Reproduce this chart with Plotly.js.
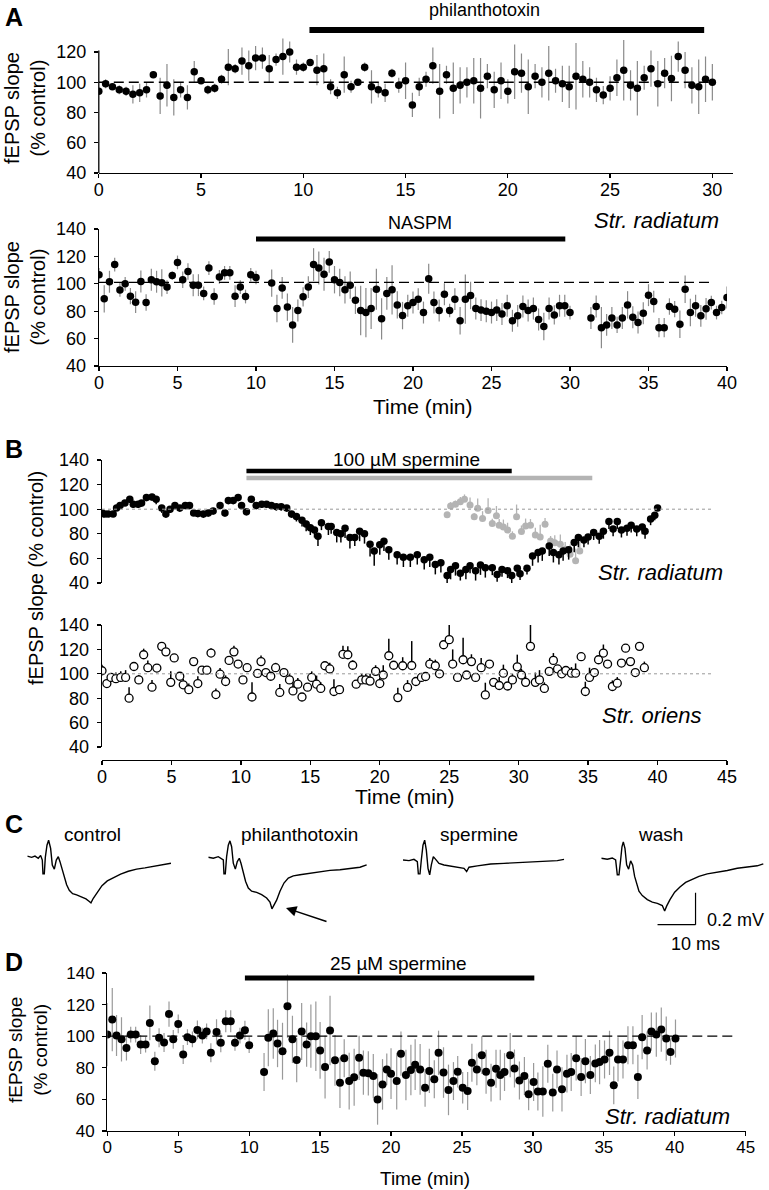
<!DOCTYPE html>
<html><head><meta charset="utf-8">
<script src="https://cdn.plot.ly/plotly-3.0.1.min.js"></script>
<style>html,body{margin:0;padding:0;background:#fff}#chart{width:769px;height:1190px}</style>
</head><body><div id="chart"></div>
<script>
// ---------------- DATA ----------------
// Panel A (top): philanthotoxin, sampled every 1/3 min from 0 min
const sampleStepMin = 1/3;
const philValues = [94,99,97,95,94,92,93,95,105,91, 98,90,95,90,107,101,95,96,102,110, 109,114,111,116,116,109,115,117,120,110,
  110,113,108,109,97,93,105,97,100,110, 97,95,93, 106,98,101,85,97,102,111,94,105,96,
  98,100,101,96,104,95,101,94,107,106, 97,104,100,106,101,99,97,104,102,100,
  95,91.5,96,103,108,98,96,103,109,99, 106,102.5,117,108,98,97,102,100];
const philErr = [2,3,2,3,3,6,6,5,2,12, 14,12,5,8,7,2,3,3,3,12, 3,9,10,8,7,9,4,12,7,5,
  3,2,10,10,5,4,12,4,2,3, 11,5,6, 3,5,12,8,6,5,12,18,6,17,
  12,10,15,20,8,12,12,8,18,13, 18,8,10,18,8,12,14,22,12,10,
  8,6,8,12,20,10,18,8,12,15, 10,15,10,12,12,18,15,12];
const philPeriod = [10.3, 29.6];

// Panel A (bottom): NASPM, sampled every 1/3 min (null = missing sample)
const naspmValues = [106.6,89,101.5,114,95.5,100,91,86.6,101.7,86.3, 103,101.5,100.7,97.6,106,115.6,103,109,99,99,
  93,111.5,90.7,105,108,108,91,97.6,90.7,106.6, 104.6, null,null,
  100.5,82,97,83,70,80.5,90.5,97.6,114, 111.5,107,116,103,101,95.6,99,88,80.5,79, 82,96,74.4,
  93,95.6,84.6,76.8,84,86.3,88.8,79,103.7, 86.3,80.5,92.4,80.5,88.8,73,88.8,91.5,82,80.8,
  80,79,80.8,78,84,73,76.6,83.4,80.5,82, 74,68.8,82,77.3,84,84,79, null,null,null,
  75,83.4,68,70,75,70,75,84.6,75.6,71.7, 78.5,91.7,87,68,68,83.4,81.5,70.5,96,79,
  84,76.6,81.7,86.3,79,82.7,90];
const naspmErr = [5,10,8,5,5,5,6,8,8,6, 8,8,10,5,3,5,6,6,8,8, 5,5,6,5,5,5,8,5,5,5, 5, 0,0,
  10,10,8,10,13,8,7,8,12, 12,12,8,10,10,10,10,10,18,18, 15,15,15,
  12,18,10,10,8,8,8,8,11, 8,8,8,5,8,10,18,10,8,8, 8,8,8,8,8,8,8,8,8,8,
  8,10,8,7,8,8,5, 0,0,0,
  8,8,15,8,8,6,8,10,8,8, 8,8,8,7,7,6,6,10,10,10, 8,8,8,5,5,5,8];
const naspmPeriod = [10, 29.7];

// Panel B (top): 100 µM spermine, str. radiatum
const bRadTime = [0,0.2,0.45,0.8,1.05,1.3,1.65,2.0,2.25,2.6, 2.85,3.2,3.6,3.9,4.3,4.6,4.9,5.25,5.6,6.0,
  6.3,6.6,6.9,7.3,7.65,8.0,8.5,8.85,9.1,9.45, 9.8,10.05,10.4,10.75,11.1,11.5,11.85,12.2,12.55,12.9,
  13.3,13.65,14.0,14.4,14.7,15.0,15.3,15.55,15.8,16.3, 16.5,16.9,17.2,17.5,17.85,18.2,18.55,18.9,19.3,19.6, 20.0,
  20.3,20.65,21.25,21.7,22.2,22.7,23.2,23.6,24.0,24.4, 24.85,25.1,25.45,25.8,26.2,26.5,26.9,27.25,27.6,28.1,
  28.45,28.8,29.2,29.5,29.9,30.1,30.6,31.0,31.4,31.7, 32.2,32.5,32.9,33.2,33.6,34.0,34.3,34.7,35.0,35.4,
  35.8,36.1,36.5,36.8,37.1,37.4,37.8,38.1,38.5,38.9, 39.1,39.5,39.8,40.0];
const bRadValues = [97,96,96,96,101,103,105,108,104,104, 105,109.5,110,108,101,96,100,103,101,103,
  103,97,96.5,96,97,98.6,103,97,107,107, 109.5,103,98,108,103,104,104,103,102,102,
  101,96,94,91,88,85,83,78,89,86, 86,81,80,84.5,77,77,82,80,71.5,66, 71,
  74,67,63,61,61,63,59,61,55,56.5, 46,51,54,48,51,54,50,54.6,52.4,52.4,
  47,51,50,46,52,47.5,52,62,64.7,66, 70,64.7,63,66,67,73,77,75,77.4,81,
  78,82,90,84,90,83,84.5,87,84,85.6, 82,92,95,101];
const bRadErrDown = [2,2,2,2,2,2,2,3,3,3, 3,3,3,4,4,3,3,3,3,3, 3,2,3,3,3,3,3,3,3,3,
  3,3,3,3,3,3,3,3,3,3, 3,3,4,5,6,6,6,8,6,7, 6,8,7,8,9,7,8,8,10,12, 8,
  8,8,8,8,8,8,8,8,8,8, 8,8,8,6,8,6,8,8,8,6, 6,6,6,6,6,5,5,8,8,8,
  8,8,8,8,8,8,8,6,6,6, 6,6,6,6,6,6,6,6,6,6, 6,5,4,2];
const bGrayTime = [24.85,25.1,25.45,25.8,26.1,26.5,26.8,27.05,27.4,27.8, 28.1,28.4,28.6,28.9,29.2,29.55,29.85,30.2,30.5,30.85,
  31.2,31.55,31.9,32.3,32.6,33.0,33.35,33.7,34.1,34.4];
const bGrayValues = [95.4,102.7,104,106,108,103.5,93.8,100.8,92.4,99, 88.3,94.6,87,85.6,83,78,93.8,81.8,86.4,87,
  79,77.4,87.8,74.2,72.8,71.5,67.4,63.3,58,66];
const bGrayErrUp = [2,3,3,4,4,6,3,8,6,10, 4,8,5,6,6,4,10,5,6,5, 6,10,5,4,6,8,6,8,10,8];
const spermine100Period = [10.4, 29.5];
const spermine100GrayPeriod = [10.4, 35.3];

// Panel B (bottom): str. oriens
const bOriTime = [0,0.35,0.65,1.0,1.35,1.7,1.95,2.3,2.65,3.0, 3.3,3.6,3.95,4.3,4.6,4.95,5.2,5.6,5.85,6.25,
  6.6,6.9,7.2,7.55,7.85,8.2,8.5,8.9,9.15,9.5, 9.8,10.15,10.45,10.8,11.2,11.45,11.8,12.15,12.5,12.8,
  13.1,13.5,13.75,14.1,14.4,14.8,15.1,15.45,15.75,16.05, 16.4,16.7,17.1,17.35,17.7,18.05,18.3,18.7,19.0,19.3,
  19.7,20.0,20.25,
  20.65,21.0,21.3,21.65,22.0,22.3,22.6,23.0,23.3,23.6, 24.0,24.3,24.6,25.0,25.25,25.6,26.0,26.25,26.6,26.9,
  27.3,27.6,27.9,28.2,28.6,28.9,29.2,29.55,29.9,30.2, 30.5,30.85,31.2,31.5,31.85,32.2,32.5,32.8,33.1,33.4,
  33.8,34.1,34.5,34.8,35.1,35.45,35.75,36.1,36.4,36.75, 37.1,37.4,37.7,38.05,38.4,38.7,39.05];
const bOriValues = [102.5,92,97,96,97,97,80,106,95,115.6, 105,89,104.7,122.5,118,93,113,98,91,87,
  110,92,103,103,117,83,99.7,93.7,111,118, 108,95,105,81,100.3,110,101,98,105,84.7,
  101,95,86,91.5,81,89,97,91.5,88,106.6, 104,85.5,87,116,115.6,107,91.5,95,95,94, 102,92,99,
  114.8,107,80.5,106.6,88.8,106.8,93.7,97,97.8,108, 106.6,100,123.8,128,108,97,111.5,99,110,97,
  105,82.7,108,93,90.4,100.5,90,95,105.7,99, 93,122.5,93,95,88,102,111,104,100,102.7,
  100.5,100.5,114,85.5,97,101,111.5,117,108,89.6, 92.3,108.8,121,110,101,122.5,105];
const bOriErrUp = [5,2,2,5,5,6,9,2,4,5, 6,6,2,2,2,9,2,2,5,5, 2,6,2,2,4,5,5,5,2,5,
  2,3,2,12,3,5,2,2,4,7, 2,5,7,5,3,3,5,7,5,3, 5,10,3,7,7,4,3,5,5,6, 5,5,8,
  14,3,8,7,6,20,3,3,3,5, 5,3,3,20,12,3,18,3,6,3, 8,10,3,3,7,7,3,5,10,5,
  5,18,8,8,5,3,6,3,3,3, 5,8,2,8,8,3,3,7,3,5, 5,2,2,2,2,3,5];

// Panel C: example fEPSP traces (time in ms, amplitude in mV)
const ctrlT = [0,1.14,2.02,2.89,3.51,3.95,4.12,4.47,4.74,5.18,5.61,6.14,6.58,7.11,7.63,8.16,8.6,9.12,9.74,10.35,11.05,11.93,12.98,14.3,15.44,16.32,16.75,17.37,18.42,19.65,21.05,22.81,24.56,26.58,28.77,30.96,33.16,35.35,37.1,37.8];
const ctrlV = [0.004,-0.004,0.004,-0.01,0.008,-0.021,-0.107,-0.107,-0.004,0.072,0.103,0.052,-0.052,-0.078,-0.021,0,-0.031,-0.078,-0.128,-0.175,-0.21,-0.231,-0.239,-0.252,-0.264,-0.28,-0.289,-0.26,-0.223,-0.181,-0.151,-0.128,-0.109,-0.091,-0.078,-0.07,-0.062,-0.054,-0.045,-0.041];
const philT = [0,1.32,2.63,3.51,3.95,4.12,4.47,4.82,5.26,5.7,6.14,6.58,7.11,7.63,8.16,8.6,9.21,9.82,10.53,11.4,12.72,14.04,15.35,16.23,16.75,17.28,17.98,18.86,19.91,21.05,22.37,24.12,26.75,29.39,32.02,34.65,37.28,39.91,41.67];
const philV = [0,-0.006,0.004,-0.008,-0.016,-0.103,-0.103,0.004,0.076,0.103,0.066,-0.037,-0.074,-0.027,-0.006,-0.037,-0.099,-0.151,-0.192,-0.212,-0.219,-0.233,-0.254,-0.28,-0.322,-0.299,-0.268,-0.212,-0.161,-0.13,-0.116,-0.109,-0.099,-0.093,-0.082,-0.078,-0.072,-0.062,-0.047];
const sperT = [0,1.58,2.89,3.77,4.04,4.47,4.82,5.26,5.7,6.14,6.58,7.02,7.46,7.98,8.6,9.47,10.79,12.54,14.3,16.05,16.75,17.37,19.56,23.07,26.58,30.09,33.6,37.11,40.61,42.37];
const sperV = [0,-0.004,0.004,-0.01,-0.087,-0.087,0,0.093,0.124,0.062,-0.052,-0.093,-0.031,0.021,0.004,-0.021,-0.031,-0.037,-0.045,-0.052,-0.072,-0.045,-0.037,-0.025,-0.021,-0.016,-0.01,-0.006,-0.004,0.004];
const washT = [0,1.58,2.89,3.77,4.21,4.65,5.09,5.44,5.79,6.23,6.67,7.19,7.72,8.25,8.77,9.3,9.91,10.79,12.11,13.42,14.74,16.05,16.67,17.19,18.07,19.3,20.7,22.19,23.95,25.7,27.89,30.53,33.16,35.79,38.42,41.05,42.63];
const washV = [0,-0.006,0.002,-0.01,-0.103,-0.103,-0.01,0.072,0.103,0.062,-0.041,-0.068,-0.016,-0.041,-0.113,-0.165,-0.206,-0.233,-0.258,-0.274,-0.282,-0.295,-0.33,-0.299,-0.258,-0.212,-0.179,-0.151,-0.13,-0.113,-0.097,-0.087,-0.076,-0.062,-0.056,-0.047,-0.035];
const scaleBarMs = 10, scaleBarMV = 0.2;

// Panel D: 25 µM spermine
const dTime = [0,0.35,0.65,1.0,1.35,1.65,2.0,2.35,2.7,3.0, 3.35,3.65,4.0,4.35,4.65,5.0,5.35,5.65,6.0,6.35,
  6.7,7.0,7.3,7.7,8.0,8.35,8.7,9.0,9.35,9.7, 10.0,
  11.05,11.35,11.7,12.0,12.35,12.7,13.05,13.35,13.7, 14.05,14.35,14.7,15.0,15.35,15.7,16.05,16.4,16.7,17.05,
  17.4,17.75,18.05,18.4,18.75,19.05,19.4,19.7,20.0,20.4, 20.7,21.05,21.4,21.7,22.05,22.4,22.7,23.05,23.35,23.7,
  24.05,24.4,24.7,25.05,25.4,25.7,26.05,26.4,26.7,27.05, 27.4,27.7,28.0,28.4,28.7,29.05,29.4,29.7,30.05,30.35,
  30.7,31.05,31.4,31.7,32.05,32.4,32.7,33.05,33.4,33.7, 34.05,34.4,34.7,35.05,35.4,35.7,36.0,36.35,36.7,37.05,
  37.4,37.7,38.05,38.35,38.7,39.05,39.4,39.7,40.05];
const dValues = [101,110.5,100.4,98,92.6,101,101,94.7,94.7,108.4, 84.2,99,96,114,98,107.8,88.4,99.4,98,104,
  100.4,103,89.5,102.7,95.8,109.5,109.5,95.8,100.4,103.8, 94.3,
  77.3,99,101.7,95.4,90.5,119,98,84.9,103, 94.7,100,100,91,80.5,103.6,84.7,70.6,86,71.6,
  74,86.3,76.9,76.5,74.8,60,69.5,79,76.3,71.6, 88.9,75.4,78.6,82,79,67.4,78,72.7,89.5,77,
  66,71.6,77.5,67.4,65.3,83.2,79,88,77.5,70.6, 79.4,75.4,77.3,88,79.6,72,74.8,63.2,71,65,
  65,82.6,64.3,79,66.4,76.3,77.3,86,74.2,84.2, 75.4,82.8,83.6,85.3,89.5,68.9,85.3,85.3,94.3,94.3,
  74.2,99.4,91,103,101,104.2,98.5,90,98.5];
const dErr = [20,20,13,14,8,5,5,6,5,11, 6,6,6,8,6,6,6,5,5,6, 5,5,6,8,6,7,7,5,5,6, 5,
  12,18,16,15,18,20,15,14,18, 14,20,22,18,20,22,16,16,12,18, 18,14,14,14,14,16,16,10,16,18,
  14,16,16,16,16,12,14,12,14,16, 16,12,10,10,12,12,10,12,14,12, 12,16,12,14,12,12,12,10,12,12,
  16,12,12,12,14,12,12,14,12,14, 12,12,14,12,14,12,14,12,12,12, 14,14,12,12,14,14,14,8,12];
const spermine25Period = [9.7, 30.1];

const baseline = 100;
const ticksA1x = [0,5,10,15,20,25,30], ticksA2x = [0,5,10,15,20,25,30,35,40], ticks45 = [0,5,10,15,20,25,30,35,40,45];
const ticksA1y = [40,60,80,100,120], ticks140 = [40,60,80,100,120,140];

// ---------------- LAYOUT HELPERS ----------------
const W = 769, H = 1190;
const FONT = 'Liberation Sans, Arial, sans-serif';
const dx = (a, b) => [a / W, b / W];
const dy = (top, bot) => [1 - bot / H, 1 - top / H];
const px = x => x / W, py = y => 1 - y / H;

function ax(o) {
  return Object.assign({showgrid:false, zeroline:false, ticks:'outside', ticklen:4, tickwidth:1.3,
    tickcolor:'#000', showline:true, linecolor:'#000', linewidth:1.3, tickmode:'array',
    tickfont:{family:FONT, size:18, color:'#000'}, ticklabelstandoff:4, fixedrange:true}, o);
}
function xax(o) { return ax(Object.assign({ticklabelstandoff:-4}, o)); }
function hid(o) { return Object.assign({visible:false, fixedrange:true}, o); }
function ann(text, x, y, size, o) {
  return Object.assign({text:text, x:px(x), y:py(y), xref:'paper', yref:'paper', showarrow:false,
    xanchor:'center', yanchor:'middle', font:{family:FONT, size:size, color:'#000'}}, o || {});
}

// ---------------- TRACES ----------------
const grayErr = '#8a8a8a';
const traces = [
  {x0:0, dx:sampleStepMin, y:philValues, xaxis:'x', yaxis:'y', type:'scatter', mode:'markers',
    marker:{color:'#000', size:7.5}, error_y:{type:'data', array:philErr, color:grayErr, thickness:1.2, width:0}},
  {x0:0, dx:sampleStepMin, y:naspmValues, xaxis:'x2', yaxis:'y2', type:'scatter', mode:'markers',
    marker:{color:'#000', size:7.5}, error_y:{type:'data', array:naspmErr, color:grayErr, thickness:1.2, width:0}},
  {x:bGrayTime, y:bGrayValues, xaxis:'x3', yaxis:'y3', type:'scatter', mode:'markers',
    marker:{color:'#b4b4b4', size:7}, error_y:{type:'data', symmetric:false, array:bGrayErrUp, arrayminus:[], color:'#b4b4b4', thickness:1.3, width:0}},
  {x:bRadTime, y:bRadValues, xaxis:'x3', yaxis:'y3', type:'scatter', mode:'markers',
    marker:{color:'#000', size:7.5}, error_y:{type:'data', symmetric:false, array:[], arrayminus:bRadErrDown, color:'#000', thickness:1.5, width:0}},
  {x:bOriTime, y:bOriValues, xaxis:'x4', yaxis:'y4', type:'scatter', mode:'markers',
    marker:{color:'#fff', size:8, line:{color:'#000', width:1.3}}, error_y:{type:'data', symmetric:false, array:bOriErrUp, arrayminus:[], color:'#000', thickness:1.5, width:0}},
  {x:dTime, y:dValues, xaxis:'x5', yaxis:'y5', type:'scatter', mode:'markers',
    marker:{color:'#000', size:8}, error_y:{type:'data', array:dErr, color:'#9a9a9a', thickness:1.2, width:0}},
  {x:ctrlT, y:ctrlV, xaxis:'x6', yaxis:'y6', type:'scatter', mode:'lines', line:{color:'#000', width:1.4}},
  {x:philT, y:philV, xaxis:'x7', yaxis:'y7', type:'scatter', mode:'lines', line:{color:'#000', width:1.4}},
  {x:sperT, y:sperV, xaxis:'x8', yaxis:'y8', type:'scatter', mode:'lines', line:{color:'#000', width:1.4}},
  {x:washT, y:washV, xaxis:'x9', yaxis:'y9', type:'scatter', mode:'lines', line:{color:'#000', width:1.4}}
];

// trace panel geometry (px): left edge, baseline y
const cW = 165, msPerPx = 1/3.8, cRange = [-0.5, 0.2], mvPx = 160;
function cDom(left, base) {
  return {x: dx(left, left + cW), y: dy(base - cRange[1]*mvPx, base - cRange[0]*mvPx)};
}
const cC = cDom(27.3, 856.7), cP = cDom(208.3, 857.3), cS = cDom(403, 860), cWsh = cDom(601.3, 858.3);
const cXR = [0, cW * msPerPx];

const layout = {
  width: W, height: H, margin:{l:0, r:0, t:0, b:0}, paper_bgcolor:'#fff', plot_bgcolor:'rgba(0,0,0,0)',
  showlegend:false, font:{family:FONT, color:'#000'},
  xaxis: xax({domain:dx(98.8,732.8), range:[0,31], anchor:'y', tickvals:ticksA1x}),
  yaxis: ax({domain:dy(24.8,173), range:[40,138], anchor:'x', showline:false, tickvals:ticksA1y}),
  xaxis2: xax({domain:dx(99,727), range:[0,40], anchor:'y2', tickvals:ticksA2x}),
  yaxis2: ax({domain:dy(229,366), range:[40,140], anchor:'x2', tickvals:ticks140}),
  xaxis3: hid({domain:dx(102,727), range:[0,45], anchor:'y3'}),
  yaxis3: ax({domain:dy(460,583), range:[40,140], anchor:'x3', tickvals:ticks140}),
  xaxis4: xax({domain:dx(102,727), range:[0,45], anchor:'free', position:py(760), tickvals:ticks45}),
  yaxis4: ax({domain:dy(625,747), range:[40,140], anchor:'x4', tickvals:ticks140}),
  xaxis5: xax({domain:dx(107.3,745.7), range:[0,45], anchor:'y5', tickvals:ticks45, tickfont:{family:FONT,size:17,color:'#000'}}),
  yaxis5: ax({domain:dy(973,1131), range:[40,140], anchor:'x5', tickvals:ticks140, tickfont:{family:FONT,size:17,color:'#000'}}),
  xaxis6: hid({domain:cC.x, range:cXR, anchor:'y6'}), yaxis6: hid({domain:cC.y, range:cRange, anchor:'x6'}),
  xaxis7: hid({domain:cP.x, range:cXR, anchor:'y7'}), yaxis7: hid({domain:cP.y, range:cRange, anchor:'x7'}),
  xaxis8: hid({domain:cS.x, range:cXR, anchor:'y8'}), yaxis8: hid({domain:cS.y, range:cRange, anchor:'x8'}),
  xaxis9: hid({domain:cWsh.x, range:cXR, anchor:'y9'}), yaxis9: hid({domain:cWsh.y, range:cRange, anchor:'x9'}),
  shapes: [
    // A1 y-axis line (only up to 120)
    {type:'line', xref:'paper', yref:'y', x0:px(98.8), x1:px(98.8), y0:40, y1:121, line:{color:'#000', width:1.3}},
    // baselines
    {type:'line', xref:'x', yref:'y', x0:0, x1:30, y0:baseline, y1:baseline, line:{color:'#000', width:1.3, dash:'10px,5px'}},
    {type:'line', xref:'x2', yref:'y2', x0:0, x1:39, y0:101, y1:101, line:{color:'#000', width:1.3, dash:'10px,5px'}},
    {type:'line', xref:'x3', yref:'y3', x0:0, x1:44, y0:baseline, y1:baseline, line:{color:'#999', width:1, dash:'dot'}},
    {type:'line', xref:'x4', yref:'y4', x0:0, x1:44, y0:baseline, y1:baseline, line:{color:'#999', width:1, dash:'dot'}},
    {type:'line', xref:'x5', yref:'y5', x0:0, x1:44.3, y0:baseline, y1:baseline, line:{color:'#000', width:1.3, dash:'10px,5px'}},
    // drug application bars
    {type:'line', xref:'x', yref:'paper', x0:philPeriod[0], x1:philPeriod[1], y0:py(30), y1:py(30), line:{color:'#000', width:6}},
    {type:'line', xref:'x2', yref:'paper', x0:naspmPeriod[0], x1:naspmPeriod[1], y0:py(239), y1:py(239), line:{color:'#000', width:5}},
    {type:'line', xref:'x3', yref:'paper', x0:spermine100Period[0], x1:spermine100Period[1], y0:py(471), y1:py(471), line:{color:'#000', width:4.5}},
    {type:'line', xref:'x3', yref:'paper', x0:spermine100GrayPeriod[0], x1:spermine100GrayPeriod[1], y0:py(478), y1:py(478), line:{color:'#b4b4b4', width:4.5}},
    {type:'line', xref:'x5', yref:'paper', x0:spermine25Period[0], x1:spermine25Period[1], y0:py(978), y1:py(978), line:{color:'#000', width:5}},
    // scale bar (wash trace axes)
    {type:'line', xref:'x9', yref:'y9', x0:24.8, x1:24.8, y0:-0.215, y1:-0.215 - scaleBarMV, line:{color:'#000', width:1.2}},
    {type:'line', xref:'x9', yref:'y9', x0:24.8 - scaleBarMs, x1:24.8, y0:-0.215 - scaleBarMV, y1:-0.215 - scaleBarMV, line:{color:'#000', width:1.2}}
  ],
  annotations: [
    ann('<b>A</b>', 14, 17, 25), ann('<b>B</b>', 14, 449, 25), ann('<b>C</b>', 14, 824, 25), ann('<b>D</b>', 14, 962, 25),
    ann('fEPSP slope<br>(% control)', 25, 108, 20, {textangle:-90}),
    ann('fEPSP slope<br>(% control)', 25, 297, 20, {textangle:-90}),
    ann('fEPSP slope (% control)', 36, 578, 20, {textangle:-90}),
    ann('fEPSP slope<br>(% control)', 28, 1050, 19, {textangle:-90}),
    ann('philanthotoxin', 484, 10, 18),
    ann('NASPM', 420, 223, 18),
    ann('<i>Str. radiatum</i>', 656, 220, 22),
    ann('Time (min)', 423, 406, 21),
    ann('100 µM spermine', 406, 460, 19),
    ann('<i>Str. radiatum</i>', 660, 572, 22),
    ann('<i>Str. oriens</i>', 651, 715, 22),
    ann('Time (min)', 405, 797, 21),
    ann('control', 92, 835, 19), ann('philanthotoxin', 299, 835, 19),
    ann('spermine', 479, 835, 19), ann('wash', 660, 835, 19),
    ann('0.2 mV', 735, 920, 18), ann('10 ms', 695, 944, 18),
    {x:px(286), y:py(908), xref:'paper', yref:'paper', ax:42, ay:14, text:'', showarrow:true,
      arrowhead:2, arrowsize:1.4, arrowwidth:1.5, arrowcolor:'#000'},
    ann('25 µM spermine', 398, 963, 19),
    ann('<i>Str. radiatum</i>', 667, 1116, 22),
    ann('Time (min)', 425, 1178, 19)
  ]
};

Plotly.newPlot('chart', traces, layout, {displayModeBar:false, staticPlot:true});
</script></body></html>
